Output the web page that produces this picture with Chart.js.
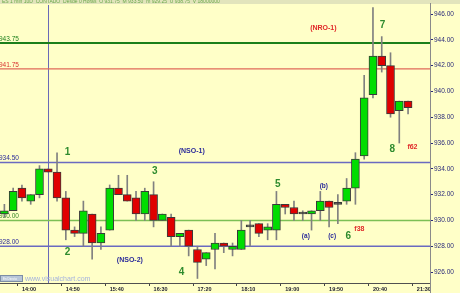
<!DOCTYPE html>
<html>
<head>
<meta charset="utf-8">
<script src="https://cdn.jsdelivr.net/npm/chart.js@4.4.0/dist/chart.umd.min.js"></script>
<style>
  html, body { margin: 0; padding: 0; background: #ffffc8; }
  canvas { display: block; }
</style>
</head>
<body>
<canvas id="grafico" width="460" height="293"></canvas>
<script>
// velas de 10 minutos
const horas = ['13:40','13:50','14:00','14:10','14:20','14:30','14:40','14:50','15:00','15:10',
  '15:20','15:30','15:40','15:50','16:00','16:10','16:20','16:30','16:40','16:50',
  '17:00','17:10','17:20','17:30','17:40','17:50','18:00','18:10','18:20','18:30',
  '18:40','18:50','19:00','19:10','19:20','19:30','19:40','19:50','20:00','20:10',
  '20:20','20:30','20:40','20:50','21:00','21:10','21:20','21:30','21:40'];

const aperturas = [930.50, 930.75, 932.50, 931.50, 932.00, 934.00, 933.75, 931.75, 929.25, 929.00,
  930.50, 928.25, 929.25, 932.50, 932.00, 931.75, 930.50, 932.00, 930.00, 930.25,
  928.75, 929.25, 927.75, 927.00, 927.75, 928.25, 927.75, 927.75, 929.50, 929.75,
  929.25, 929.25, 931.25, 931.00, 930.50, 930.50, 930.75, 931.50, 931.25, 931.50,
  932.50, 935.00, 939.75, 942.75, 942.00, 938.50, 939.25];
const maximos = [931.25, 932.50, 932.75, 932.00, 934.25, 934.00, 935.25, 932.25, 929.50, 931.50,
  930.50, 929.50, 932.75, 933.50, 933.50, 932.25, 932.50, 933.00, 930.50, 930.50,
  929.00, 929.25, 928.00, 927.50, 929.00, 928.25, 928.25, 930.00, 930.00, 929.75,
  929.75, 932.25, 931.25, 931.50, 930.75, 930.75, 932.25, 931.50, 932.00, 933.25,
  935.25, 941.25, 946.50, 944.25, 943.00, 939.25, 939.25];
const minimos = [930.25, 930.75, 931.50, 931.25, 931.75, 933.75, 931.50, 928.50, 928.75, 928.00,
  927.00, 927.75, 929.25, 932.00, 931.50, 930.00, 930.00, 929.50, 930.00, 928.00,
  928.00, 927.25, 925.50, 926.50, 926.25, 927.50, 927.25, 927.75, 928.00, 928.75,
  928.50, 928.50, 930.50, 930.00, 930.00, 929.25, 930.00, 929.50, 929.75, 931.25,
  931.25, 934.75, 939.50, 941.50, 938.00, 936.00, 938.25];
const cierres = [930.75, 932.25, 931.75, 932.00, 934.00, 933.75, 931.75, 929.25, 929.00, 930.75,
  928.25, 929.00, 932.50, 932.00, 931.50, 930.50, 932.25, 930.00, 930.50, 928.75,
  929.00, 928.00, 926.75, 927.50, 928.25, 928.00, 928.00, 929.25, 929.50, 929.00,
  929.50, 931.25, 931.00, 930.50, 930.50, 930.75, 931.50, 931.00, 931.25, 932.50,
  934.75, 939.50, 942.75, 942.00, 938.25, 939.25, 938.75];

const etiquetasX = ['14:00','14:50','15:40','16:30','17:20','18:10','19:00','19:50','20:40','21:30'];
const ticksY = [926, 928, 930, 932, 934, 936, 938, 940, 942, 944, 946];

// niveles horizontales y linea vertical
const niveles = [943.75, 941.75, 934.50, 930.00, 928.00];
const lineaVertical = '14:30';

// anotaciones (posicion en indice de vela y precio)
const notas = [
  { t: '1', i: 7.2, p: 935.25, tipo: 'onda' },
  { t: '2', i: 7.2, p: 927.55, tipo: 'onda' },
  { t: '3', i: 17.15, p: 933.8, tipo: 'onda' },
  { t: '4', i: 20.2, p: 926.0, tipo: 'onda' },
  { t: '5', i: 31.15, p: 932.8, tipo: 'onda' },
  { t: '6', i: 39.2, p: 928.75, tipo: 'onda' },
  { t: '7', i: 43.1, p: 945.1, tipo: 'onda' },
  { t: '8', i: 44.2, p: 935.55, tipo: 'onda' },
  { t: '(NSO-1)', i: 21.35, p: 935.35, tipo: 'azul' },
  { t: '(NSO-2)', i: 14.3, p: 926.9, tipo: 'azul' },
  { t: '(NRO-1)', i: 36.35, p: 944.9, tipo: 'rojo' },
  { t: '(a)', i: 34.35, p: 928.8, tipo: 'azulFino' },
  { t: '(b)', i: 36.4, p: 932.65, tipo: 'azulFino' },
  { t: '(c)', i: 37.35, p: 928.8, tipo: 'azulFino' },
  { t: 'f38', i: 40.45, p: 929.35, tipo: 'rojo' },
  { t: 'f62', i: 46.5, p: 935.65, tipo: 'rojo' }
];

const FUENTE = '"Liberation Sans", Arial, sans-serif';
const estilosNivel = [
  { linea: '#1a7f1a', ancho: 2, texto: '#1a7f1a' },
  { linea: '#e06a5a', ancho: 1.2, texto: '#d83030' },
  { linea: '#6a6ac0', ancho: 1.5, texto: '#2a2a9a' },
  { linea: '#7cbf55', ancho: 1.5, texto: '#3a8a2a' },
  { linea: '#6a6ac0', ancho: 1.5, texto: '#2a2a9a' }
];
const estilosNota = {
  onda: { color: '#2e8b2e', font: 'bold 10px ' + FUENTE },
  azul: { color: '#2a2a9a', font: 'bold 7px ' + FUENTE },
  azulFino: { color: '#2a2a9a', font: 'bold 6.5px ' + FUENTE },
  rojo: { color: '#e02828', font: 'bold 7px ' + FUENTE }
};

const cuerpos = aperturas.map((a, i) => [a, cierres[i]]);
const mechas = minimos.map((m, i) => [m, maximos[i]]);
const coloresVela = aperturas.map((a, i) =>
  cierres[i] > a ? '#00dd00' : cierres[i] < a ? '#e00000' : '#404040');

const decorado = {
  id: 'decorado',
  beforeDraw(chart) {
    const c = chart.ctx;
    c.save();
    c.fillStyle = '#ffffc8';
    c.fillRect(0, 0, chart.width, chart.height);
    // barra superior
    c.fillStyle = '#e2e4bc';
    c.fillRect(0, 0, chart.width, 4);
    c.font = '5px ' + FUENTE;
    c.fillStyle = '#6aa84a';
    c.textBaseline = 'alphabetic';
    c.fillText('ES 1 min 10D  CONTADO  Desde 0 Horas  O 931.75  M 933.50  m 929.25  U 938.75  V 18000000', 2, 3);
    c.restore();
  },
  beforeDatasetsDraw(chart) {
    const c = chart.ctx;
    const { left, right, top, bottom } = chart.chartArea;
    const y = chart.scales.y, x = chart.scales.x;
    c.save();
    c.beginPath();
    c.rect(left, top, right - left, bottom - top);
    c.clip();
    // linea vertical
    const vx = Math.round(x.getPixelForValue(horas.indexOf(lineaVertical))) + 0.5;
    c.strokeStyle = '#6a6ab8';
    c.lineWidth = 1;
    c.beginPath();
    c.moveTo(vx, top - 2);
    c.lineTo(vx, bottom);
    c.stroke();
    // niveles
    niveles.forEach((n, k) => {
      const py = y.getPixelForValue(n);
      const e = estilosNivel[k];
      c.strokeStyle = e.linea;
      c.lineWidth = e.ancho;
      c.beginPath();
      c.moveTo(left, py);
      c.lineTo(right, py);
      c.stroke();
      c.font = '6.5px ' + FUENTE;
      c.fillStyle = e.texto;
      c.textAlign = 'left';
      c.textBaseline = 'alphabetic';
      c.fillText(n.toFixed(2), -1, py - 2);
    });
    // logo
    c.fillStyle = '#b8c6d8';
    c.strokeStyle = '#7d8ea6';
    c.lineWidth = 1;
    c.fillRect(0.5, 275.5, 22, 6);
    c.strokeRect(0.5, 275.5, 22, 6);
    c.font = '3px ' + FUENTE;
    c.fillStyle = '#ffffff';
    c.fillText('En Directo', 3, 280);
    c.font = '7px ' + FUENTE;
    c.fillStyle = '#a4b2de';
    c.fillText('www.visualchart.com', 25, 281);
    c.restore();
  },
  afterDatasetsDraw(chart) {
    const c = chart.ctx;
    const y = chart.scales.y, x = chart.scales.x;
    c.save();
    c.textAlign = 'center';
    c.textBaseline = 'middle';
    notas.forEach(n => {
      const e = estilosNota[n.tipo];
      c.font = e.font;
      c.fillStyle = e.color;
      c.fillText(n.t, x.getPixelForValue(n.i), y.getPixelForValue(n.p));
    });
    c.restore();
  },
  afterDraw(chart) {
    const c = chart.ctx;
    const { right, bottom } = chart.chartArea;
    c.save();
    c.strokeStyle = '#8a8a8a';
    c.lineWidth = 1;
    c.beginPath();
    c.moveTo(Math.round(right) + 0.5, 3);
    c.lineTo(Math.round(right) + 0.5, chart.height);
    c.stroke();
    c.strokeStyle = '#505050';
    c.beginPath();
    c.moveTo(0, Math.round(bottom) + 0.5);
    c.lineTo(Math.round(right), Math.round(bottom) + 0.5);
    c.stroke();
    c.restore();
  }
};

new Chart(document.getElementById('grafico').getContext('2d'), {
  type: 'bar',
  data: {
    labels: horas,
    datasets: [
      {
        label: 'cuerpo',
        data: cuerpos,
        backgroundColor: coloresVela,
        borderColor: '#3a3a3a',
        borderWidth: 1,
        borderSkipped: false,
        barThickness: 8,
        minBarLength: 2,
        grouped: false,
        order: 0
      },
      {
        label: 'mecha',
        data: mechas,
        backgroundColor: '#808080',
        borderWidth: 0,
        barThickness: 1,
        grouped: false,
        order: 1
      }
    ]
  },
  options: {
    responsive: false,
    animation: false,
    devicePixelRatio: 1,
    layout: { padding: { top: 5, left: 0, right: 0, bottom: 0 } },
    plugins: { legend: { display: false }, tooltip: { enabled: false } },
    scales: {
      x: {
        offset: true,
        grid: {
          drawOnChartArea: false,
          tickLength: 3,
          color: (c) => (c.tick && c.tick.label) ? '#444444' : 'rgba(0,0,0,0)'
        },
        border: { display: false },
        ticks: {
          autoSkip: false,
          maxRotation: 0,
          padding: 0,
          align: 'start',
          color: '#222233',
          font: { family: FUENTE, size: 5.5, weight: 'bold' },
          callback: (v, i) => etiquetasX.includes(horas[i]) ? horas[i] : ''
        },
        afterFit(s) { s.height = 10; }
      },
      y: {
        position: 'right',
        min: 925.15,
        max: 946.7,
        afterBuildTicks(s) { s.ticks = ticksY.map(v => ({ value: v })); },
        grid: { drawOnChartArea: false, tickLength: 3, color: '#2a2a7a' },
        border: { display: false },
        ticks: {
          padding: 1,
          color: '#2a2a7a',
          font: { family: FUENTE, size: 6.5 },
          callback: (v) => Number(v).toFixed(2)
        },
        afterFit(s) { s.width = 30; }
      }
    }
  },
  plugins: [decorado]
});
</script>
</body>
</html>
